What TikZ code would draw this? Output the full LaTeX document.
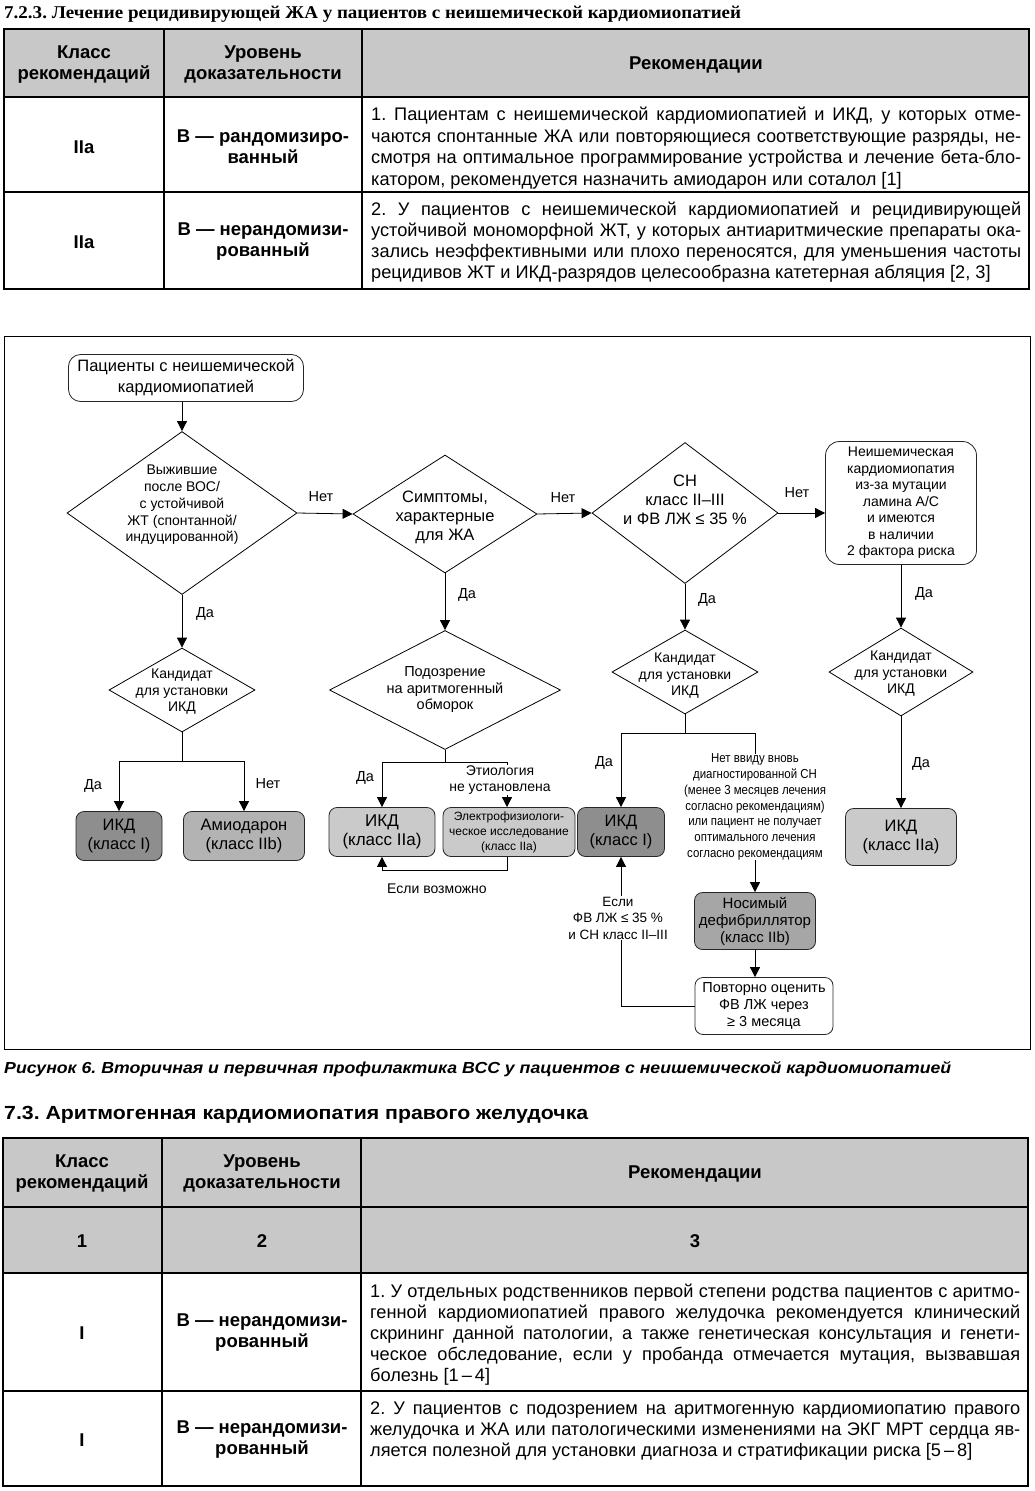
\documentclass[tikz,border=0pt]{standalone}
\usepackage{graphicx}
\usepackage{fontspec}
\setmainfont{Liberation Sans}
\newfontfamily\tserif{Liberation Serif}
\newfontfamily\narrowf{Liberation Sans}[FakeStretch=0.88]
\usetikzlibrary{shapes.geometric,arrows.meta}
\frenchspacing
\newcommand\fs[2]{\fontsize{#1}{#2}\selectfont}
\newcommand\tjust[4]{\node[anchor=base west, inner sep=0pt, font=\fs{18.2}{21}] (#1) at (#2,#3) {\makebox[650pt][s]{#4}};}
\newcommand\tlast[4]{\node[anchor=base west, inner sep=0pt, font=\fs{18.2}{21}] (#1) at (#2,#3) {#4};}
\definecolor{hdr}{HTML}{C8C8C8}
\definecolor{dk}{HTML}{8E8E8E}
\definecolor{md}{HTML}{B3B3B3}
\definecolor{lt}{HTML}{CACACA}
\definecolor{wr}{HTML}{A6A6A6}
\tikzset{
  arr/.style={draw, line width=0.8pt, -{Triangle[length=10pt,width=10pt]}},
  ln/.style={draw, line width=0.8pt},
  dia/.style={diamond, draw, line width=0.8pt, inner sep=0pt},
  dtext/.style={align=center, inner sep=0pt},
  rbox/.style={rectangle, rounded corners=8pt, draw=black!85, line width=0.8pt, align=center, inner sep=0pt},
  lbl/.style={font=\fs{14.5}{16.5}, inner sep=1pt, align=center},
  tbl/.style={line width=1.1pt},
  th/.style={font=\bfseries\fs{18.5}{21}, align=center, inner sep=0pt},
  tc/.style={font=\bfseries\fs{18.5}{21}, align=center, inner sep=0pt},
}
\begin{document}
\begin{tikzpicture}[x=1pt,y=-1pt]
\useasboundingbox (0,0) rectangle (1034,1491);
\fill[white] (0,0) rectangle (1034,1491);

% ---------- title ----------
\node[anchor=base west, inner sep=0pt, font=\tserif\bfseries\fs{18}{20}] (title) at (4,18.5)
  {\resizebox{737pt}{\height}{7.2.3. Лечение рецидивирующей ЖА у пациентов с неишемической кардиомиопатией}};

% ---------- table 1 ----------
\fill[hdr] (4,29) rectangle (1029,97);
\draw[tbl] (4,29) rectangle (1029,289) (4,97) -- (1029,97) (4,192) -- (1029,192)
  (164,29) -- (164,289) (362,29) -- (362,289);
\node[th] (t1h1) at (84,64.5) {Класс\\рекомендаций};
\node[th] (t1h2) at (263,64.5) {Уровень\\доказательности};
\node[th] (t1h3) at (696,64.5) {Рекомендации};
\node[tc] (t1a1) at (84,147) {IIa};
\node[tc] (t1b1) at (263,147) {В — рандомизиро-\\ванный};
\node[tc] (t1a2) at (84,242) {IIa};
\node[tc] (t1b2) at (263,242) {В — нерандомизи-\\рованный};
\tjust{t1r1a}{371}{120.5}{1. Пациентам с неишемической кардиомиопатией и ИКД, у которых отме-}
\tjust{t1r1b}{371}{142}{чаются спонтанные ЖА или повторяющиеся соответствующие разряды, не-}
\tjust{t1r1c}{371}{163.5}{смотря на оптимальное программирование устройства и лечение бета-бло-}
\tlast{t1r1d}{371}{185.5}{катором, рекомендуется назначить амиодарон или соталол [1]}
\tjust{t1r2a}{371}{215.5}{2. У пациентов с неишемической кардиомиопатией и рецидивирующей}
\tjust{t1r2b}{371}{236.5}{устойчивой мономорфной ЖТ, у которых антиаритмические препараты ока-}
\tjust{t1r2c}{371}{257.5}{зались неэффективными или плохо переносятся, для уменьшения частоты}
\tlast{t1r2d}{371}{278.5}{рецидивов ЖТ и ИКД-разрядов целесообразна катетерная абляция [2, 3]}

% ---------- flowchart frame ----------
\draw[line width=0.9pt] (4,336) rectangle (1030,1049);

% nodes
\node[rbox, rounded corners=12pt, minimum width=235pt, minimum height=47pt, font=\fs{16.5}{21}] (start) at (186,378) {Пациенты с неишемической\\кардиомиопатией};

\node[dia, minimum width=230pt, minimum height=163pt] (d1) at (182,513) {};
\node[dtext, font=\fs{14}{16.7}] (d1t) at (182,505) {Выжившие\\после ВОС/\\с устойчивой\\ЖТ (спонтанной/\\индуцированной)};

\node[dia, minimum width=184pt, minimum height=118pt] (d2) at (445,514) {};
\node[dtext, font=\fs{16.5}{19}] (d2t) at (445,517) {Симптомы,\\характерные\\для ЖА};

\node[dia, minimum width=186pt, minimum height=141pt] (d3) at (685,513) {};
\node[dtext, font=\fs{16.5}{19}] (d3t) at (685,500) {СН\\класс II–III\\и ФВ ЛЖ ≤ 35 \%};

\node[rbox, rounded corners=14pt, minimum width=151pt, minimum height=123pt, font=\fs{14}{16.5}] (r4) at (901,503) {Неишемическая\\кардиомиопатия\\из-за мутации\\ламина А/С\\и имеются\\в наличии\\2 фактора риска};

\node[dia, minimum width=146pt, minimum height=84pt] (k1) at (182,690) {};
\node[dtext, font=\fs{14}{16.5}] (k1t) at (182,692) {Кандидат\\для установки\\ИКД};

\node[dia, minimum width=231pt, minimum height=119pt] (s) at (445,690) {};
\node[dtext, font=\fs{14.5}{16.5}] (st) at (445,690) {Подозрение\\на аритмогенный\\обморок};

\node[dia, minimum width=146pt, minimum height=84pt] (k3) at (685,672) {};
\node[dtext, font=\fs{14}{16.5}] (k3t) at (685,676) {Кандидат\\для установки\\ИКД};

\node[dia, minimum width=144pt, minimum height=88pt] (k4) at (901,672) {};
\node[dtext, font=\fs{14}{16.5}] (k4t) at (901,674) {Кандидат\\для установки\\ИКД};

\node[rbox, fill=dk, minimum width=86pt, minimum height=49pt, font=\fs{16.5}{19}] (ikdA) at (119,836) {ИКД\\(класс I)};
\node[rbox, fill=md, minimum width=121pt, minimum height=49pt, font=\fs{16.5}{19}] (amio) at (244,836) {Амиодарон\\(класс IIb)};
\node[rbox, fill=lt, minimum width=106pt, minimum height=49pt, font=\fs{17}{19}] (ikdB) at (382,832) {ИКД\\(класс IIa)};
\node[rbox, fill=lt, minimum width=132pt, minimum height=49pt, font=\fs{12}{15}] (efi) at (509,832) {Электрофизиологи-\\ческое исследование\\(класс IIa)};
\node[rbox, fill=dk, minimum width=87pt, minimum height=49pt, font=\fs{16.5}{19}] (ikdC) at (621,832) {ИКД\\(класс I)};
\node[dtext, font=\narrowf\fs{13}{15.8}] (notxt) at (755,807) {Нет ввиду вновь\\диагностированной СН\\(менее 3 месяцев лечения\\согласно рекомендациям)\\или пациент не получает\\оптимального лечения\\согласно рекомендациям};
\node[rbox, fill=wr, minimum width=121pt, minimum height=57pt, font=\fs{15}{17}] (wear) at (755,921) {Носимый\\дефибриллятор\\(класс IIb)};
\node[rbox, fill=white, minimum width=138pt, minimum height=57pt, font=\fs{14.5}{17}] (reval) at (764,1006) {Повторно оценить\\ФВ ЛЖ через\\≥ 3 месяца};
\node[rbox, fill=lt, minimum width=111pt, minimum height=57pt, font=\fs{16.5}{19}] (ikdD) at (901,837) {ИКД\\(класс IIa)};

% junctions
\coordinate (k1j) at (182,761);
\coordinate (sj) at (445,762);
\coordinate (k3j) at (685,733);

% connectors
\draw[arr] (d1.north |- start.south) -- (d1.north);
\draw[arr] (d1.east) -- (d2.west);
\draw[arr] (d2.east) -- (d3.west);
\draw[arr] (d3.east) -- (d3.east -| r4.west);
\draw[arr] (d1.south) -- (k1.north);
\draw[arr] (d2.south) -- (s.north);
\draw[arr] (d3.south) -- (k3.north);
\draw[arr] (r4.south -| k4.north) -- (k4.north);
\draw[ln] (k1.south) -- (k1j);
\draw[arr] (k1j) -| (ikdA.north);
\draw[arr] (k1j) -| (amio.north);
\draw[ln] (s.south) -- (sj);
\draw[arr] (sj) -| (ikdB.north);
\draw[arr] (sj) -| ([xshift=-2pt]efi.north);
\draw[arr] ([xshift=-2pt]efi.south) -- ++(0,13) -| (ikdB.south);
\draw[ln] (k3.south) -- (k3j);
\draw[arr] (k3j) -| (ikdC.north);
\draw[ln] (k3j) -| (notxt.north);
\draw[arr] (notxt.south) -- (wear.north);
\draw[arr] (wear.south) -- (wear.south |- reval.north);
\draw[arr] (reval.west) -| (ikdC.south);
\draw[arr] (k4.south) -- (ikdD.north);

% labels
\node[lbl] (nA) at (321,497) {Нет};
\node[lbl] (nB) at (563,498) {Нет};
\node[lbl] (nC) at (797,493) {Нет};
\node[lbl] (yA) at (205,614) {Да};
\node[lbl] (yB) at (467,595) {Да};
\node[lbl] (yC) at (707,600) {Да};
\node[lbl] (yD) at (924,594) {Да};
\node[lbl] (yE) at (93,786) {Да};
\node[lbl] (nE) at (268,784) {Нет};
\node[lbl] (yF) at (365,778) {Да};
\node[lbl, fill=white, inner sep=0.5pt, font=\fs{14}{16}] (etio) at (500,780) {Этиология\\не установлена};
\node[lbl] (yG) at (604,763) {Да};
\node[lbl] (yH) at (921,764) {Да};
\node[lbl, font=\fs{14}{16}] (ifp) at (437,889) {Если возможно};
\node[lbl, fill=white, font=\fs{13.5}{16.5}] (ifl) at (618,918) {Если\\ФВ ЛЖ ≤ 35 \%\\и СН класс II–III};

% ---------- caption & heading ----------
\node[anchor=base west, inner sep=0pt, font=\bfseries\itshape\fs{16}{18}] (cap) at (4,1073)
  {\resizebox{947pt}{\height}{Рисунок 6. Вторичная и первичная профилактика ВСС у пациентов с неишемической кардиомиопатией}};
\node[anchor=base west, inner sep=0pt, font=\bfseries\fs{19}{21}] (h73) at (4,1119)
  {\resizebox{584pt}{\height}{7.3. Аритмогенная кардиомиопатия правого желудочка}};

% ---------- table 2 ----------
\fill[hdr] (3,1138) rectangle (1028,1273);
\draw[tbl] (3,1138) rectangle (1028,1486) (3,1207) -- (1028,1207) (3,1273) -- (1028,1273)
  (3,1391) -- (1028,1391) (162,1138) -- (162,1486) (361,1138) -- (361,1486);
\node[th] (t2h1) at (82,1173.5) {Класс\\рекомендаций};
\node[th] (t2h2) at (262,1173.5) {Уровень\\доказательности};
\node[th] (t2h3) at (695,1173.5) {Рекомендации};
\node[th] (t2n1) at (82,1241) {1};
\node[th] (t2n2) at (262,1241) {2};
\node[th] (t2n3) at (695,1241) {3};
\node[tc] (t2a1) at (82,1333) {I};
\node[tc] (t2b1) at (262,1333) {В — нерандомизи-\\рованный};
\node[tc] (t2a2) at (82,1440) {I};
\node[tc] (t2b2) at (262,1440) {В — нерандомизи-\\рованный};
\tjust{t2r1a}{370}{1297.5}{1. У отдельных родственников первой степени родства пациентов с аритмо-}
\tjust{t2r1b}{370}{1318.5}{генной кардиомиопатией правого желудочка рекомендуется клинический}
\tjust{t2r1c}{370}{1339.5}{скрининг данной патологии, а также генетическая консультация и генети-}
\tjust{t2r1d}{370}{1360.5}{ческое обследование, если у пробанда отмечается мутация, вызвавшая}
\tlast{t2r1e}{370}{1381.5}{болезнь [1\,–\,4]}
\tjust{t2r2a}{370}{1414.5}{2. У пациентов с подозрением на аритмогенную кардиомиопатию правого}
\tjust{t2r2b}{370}{1435.5}{желудочка и ЖА или патологическими изменениями на ЭКГ МРТ сердца яв-}
\tlast{t2r2c}{370}{1456.5}{ляется полезной для установки диагноза и стратификации риска [5\,–\,8]}
\end{tikzpicture}
\end{document}
